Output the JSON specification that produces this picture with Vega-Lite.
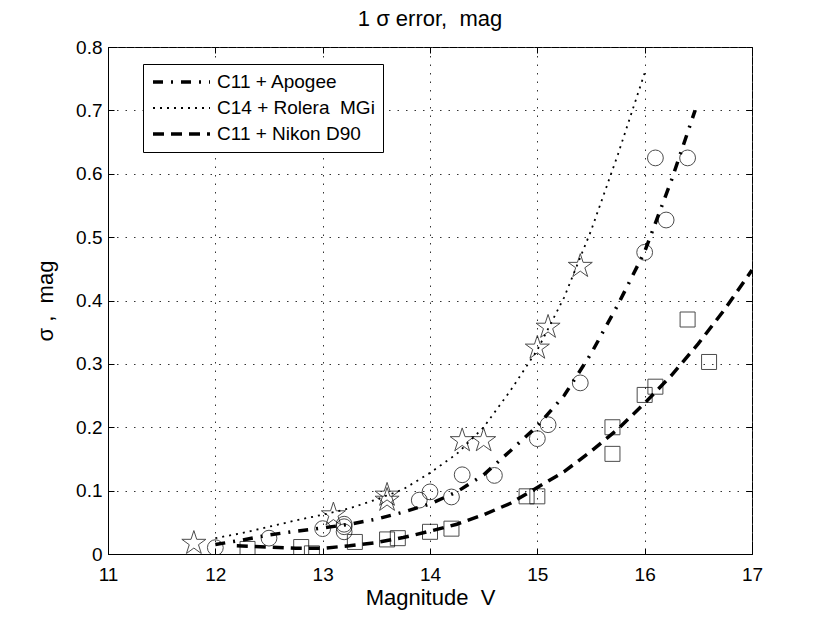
{
  "$schema": "https://vega.github.io/schema/vega-lite/v6.json",
  "width": 644,
  "height": 507,
  "autosize": {"type": "none"},
  "padding": {"left": 108, "top": 47, "right": 78, "bottom": 71},
  "background": "white",
  "title": {
    "text": "1 σ error,\u00a0 mag",
    "fontSize": 22,
    "fontWeight": "normal",
    "font": "Liberation Sans",
    "color": "black",
    "offset": 7
  },
  "datasets": {
    "curves": [
      {"series": "C11 + Apogee", "mag": 12.0, "sigma": 0.015},
      {"series": "C11 + Apogee", "mag": 12.25, "sigma": 0.022},
      {"series": "C11 + Apogee", "mag": 12.5, "sigma": 0.030},
      {"series": "C11 + Apogee", "mag": 12.75, "sigma": 0.036},
      {"series": "C11 + Apogee", "mag": 13.0, "sigma": 0.041},
      {"series": "C11 + Apogee", "mag": 13.25, "sigma": 0.047},
      {"series": "C11 + Apogee", "mag": 13.5, "sigma": 0.055},
      {"series": "C11 + Apogee", "mag": 13.75, "sigma": 0.066},
      {"series": "C11 + Apogee", "mag": 14.0, "sigma": 0.079},
      {"series": "C11 + Apogee", "mag": 14.25, "sigma": 0.098},
      {"series": "C11 + Apogee", "mag": 14.5, "sigma": 0.125},
      {"series": "C11 + Apogee", "mag": 14.75, "sigma": 0.163},
      {"series": "C11 + Apogee", "mag": 15.0, "sigma": 0.202},
      {"series": "C11 + Apogee", "mag": 15.25, "sigma": 0.250},
      {"series": "C11 + Apogee", "mag": 15.5, "sigma": 0.316},
      {"series": "C11 + Apogee", "mag": 15.75, "sigma": 0.393},
      {"series": "C11 + Apogee", "mag": 16.0, "sigma": 0.477},
      {"series": "C11 + Apogee", "mag": 16.25, "sigma": 0.590},
      {"series": "C11 + Apogee", "mag": 16.47, "sigma": 0.700},
      {"series": "C14 + Rolera\u00a0 MGi", "mag": 12.0, "sigma": 0.025},
      {"series": "C14 + Rolera\u00a0 MGi", "mag": 12.25, "sigma": 0.033},
      {"series": "C14 + Rolera\u00a0 MGi", "mag": 12.5, "sigma": 0.043},
      {"series": "C14 + Rolera\u00a0 MGi", "mag": 12.75, "sigma": 0.053},
      {"series": "C14 + Rolera\u00a0 MGi", "mag": 13.0, "sigma": 0.062},
      {"series": "C14 + Rolera\u00a0 MGi", "mag": 13.25, "sigma": 0.072},
      {"series": "C14 + Rolera\u00a0 MGi", "mag": 13.5, "sigma": 0.086},
      {"series": "C14 + Rolera\u00a0 MGi", "mag": 13.75, "sigma": 0.102},
      {"series": "C14 + Rolera\u00a0 MGi", "mag": 14.0, "sigma": 0.128},
      {"series": "C14 + Rolera\u00a0 MGi", "mag": 14.25, "sigma": 0.158},
      {"series": "C14 + Rolera\u00a0 MGi", "mag": 14.5, "sigma": 0.200},
      {"series": "C14 + Rolera\u00a0 MGi", "mag": 14.75, "sigma": 0.258},
      {"series": "C14 + Rolera\u00a0 MGi", "mag": 15.0, "sigma": 0.322},
      {"series": "C14 + Rolera\u00a0 MGi", "mag": 15.25, "sigma": 0.405},
      {"series": "C14 + Rolera\u00a0 MGi", "mag": 15.5, "sigma": 0.510},
      {"series": "C14 + Rolera\u00a0 MGi", "mag": 15.75, "sigma": 0.630},
      {"series": "C14 + Rolera\u00a0 MGi", "mag": 16.0, "sigma": 0.759},
      {"series": "C11 + Nikon D90", "mag": 12.2, "sigma": 0.013},
      {"series": "C11 + Nikon D90", "mag": 12.5, "sigma": 0.011},
      {"series": "C11 + Nikon D90", "mag": 12.75, "sigma": 0.009},
      {"series": "C11 + Nikon D90", "mag": 13.0, "sigma": 0.009},
      {"series": "C11 + Nikon D90", "mag": 13.25, "sigma": 0.013},
      {"series": "C11 + Nikon D90", "mag": 13.5, "sigma": 0.018},
      {"series": "C11 + Nikon D90", "mag": 13.75, "sigma": 0.026},
      {"series": "C11 + Nikon D90", "mag": 14.0, "sigma": 0.036},
      {"series": "C11 + Nikon D90", "mag": 14.25, "sigma": 0.047},
      {"series": "C11 + Nikon D90", "mag": 14.5, "sigma": 0.062},
      {"series": "C11 + Nikon D90", "mag": 14.75, "sigma": 0.080},
      {"series": "C11 + Nikon D90", "mag": 15.0, "sigma": 0.105},
      {"series": "C11 + Nikon D90", "mag": 15.25, "sigma": 0.130},
      {"series": "C11 + Nikon D90", "mag": 15.5, "sigma": 0.162},
      {"series": "C11 + Nikon D90", "mag": 15.75, "sigma": 0.197},
      {"series": "C11 + Nikon D90", "mag": 16.0, "sigma": 0.238},
      {"series": "C11 + Nikon D90", "mag": 16.25, "sigma": 0.282},
      {"series": "C11 + Nikon D90", "mag": 16.5, "sigma": 0.332},
      {"series": "C11 + Nikon D90", "mag": 16.75, "sigma": 0.387},
      {"series": "C11 + Nikon D90", "mag": 17.0, "sigma": 0.448}
    ],
    "points": [
      {"camera": "Apogee", "mag": 12.0, "sigma": 0.010},
      {"camera": "Apogee", "mag": 12.5, "sigma": 0.025},
      {"camera": "Apogee", "mag": 13.0, "sigma": 0.040},
      {"camera": "Apogee", "mag": 13.2, "sigma": 0.047},
      {"camera": "Apogee", "mag": 13.2, "sigma": 0.043},
      {"camera": "Apogee", "mag": 13.2, "sigma": 0.035},
      {"camera": "Apogee", "mag": 13.9, "sigma": 0.085},
      {"camera": "Apogee", "mag": 14.0, "sigma": 0.098},
      {"camera": "Apogee", "mag": 14.2, "sigma": 0.090},
      {"camera": "Apogee", "mag": 14.3, "sigma": 0.125},
      {"camera": "Apogee", "mag": 14.6, "sigma": 0.124},
      {"camera": "Apogee", "mag": 15.0, "sigma": 0.182},
      {"camera": "Apogee", "mag": 15.1, "sigma": 0.204},
      {"camera": "Apogee", "mag": 15.4, "sigma": 0.270},
      {"camera": "Apogee", "mag": 16.0, "sigma": 0.476},
      {"camera": "Apogee", "mag": 16.1, "sigma": 0.625},
      {"camera": "Apogee", "mag": 16.2, "sigma": 0.527},
      {"camera": "Apogee", "mag": 16.4, "sigma": 0.625},
      {"camera": "Rolera", "mag": 11.8, "sigma": 0.017},
      {"camera": "Rolera", "mag": 13.1, "sigma": 0.062},
      {"camera": "Rolera", "mag": 13.6, "sigma": 0.093},
      {"camera": "Rolera", "mag": 13.6, "sigma": 0.085},
      {"camera": "Rolera", "mag": 14.3, "sigma": 0.179},
      {"camera": "Rolera", "mag": 14.5, "sigma": 0.179},
      {"camera": "Rolera", "mag": 15.0, "sigma": 0.325},
      {"camera": "Rolera", "mag": 15.1, "sigma": 0.358},
      {"camera": "Rolera", "mag": 15.4, "sigma": 0.454},
      {"camera": "Nikon", "mag": 12.3, "sigma": 0.008},
      {"camera": "Nikon", "mag": 12.8, "sigma": 0.011},
      {"camera": "Nikon", "mag": 12.9, "sigma": 0.001},
      {"camera": "Nikon", "mag": 13.3, "sigma": 0.019},
      {"camera": "Nikon", "mag": 13.6, "sigma": 0.023},
      {"camera": "Nikon", "mag": 13.7, "sigma": 0.025},
      {"camera": "Nikon", "mag": 14.0, "sigma": 0.035},
      {"camera": "Nikon", "mag": 14.2, "sigma": 0.040},
      {"camera": "Nikon", "mag": 14.9, "sigma": 0.091},
      {"camera": "Nikon", "mag": 15.0, "sigma": 0.091},
      {"camera": "Nikon", "mag": 15.7, "sigma": 0.200},
      {"camera": "Nikon", "mag": 15.7, "sigma": 0.158},
      {"camera": "Nikon", "mag": 16.0, "sigma": 0.251},
      {"camera": "Nikon", "mag": 16.1, "sigma": 0.264},
      {"camera": "Nikon", "mag": 16.4, "sigma": 0.370},
      {"camera": "Nikon", "mag": 16.6, "sigma": 0.303}
    ]
  },
  "layer": [
    {
      "data": {"name": "curves"},
      "mark": {"type": "line", "color": "black", "clip": true},
      "encoding": {
        "x": {
          "field": "mag",
          "type": "quantitative",
          "scale": {"domain": [11, 17], "nice": false, "zero": false},
          "axis": {
            "orient": "bottom",
            "values": [11, 12, 13, 14, 15, 16, 17],
            "title": "Magnitude\u00a0 V",
            "grid": true,
            "tickSize": -6,
            "labelPadding": 17,
            "titlePadding": 3
          }
        },
        "y": {
          "field": "sigma",
          "type": "quantitative",
          "scale": {"domain": [0, 0.8], "nice": false},
          "axis": {
            "orient": "left",
            "values": [0, 0.1, 0.2, 0.3, 0.4, 0.5, 0.6, 0.7, 0.8],
            "labelExpr": "datum.value == 0 ? '0' : format(datum.value, '.1f')",
            "title": "σ ,\u00a0 mag",
            "grid": true,
            "tickSize": -6,
            "labelPadding": 12,
            "titlePadding": 18
          }
        },
        "strokeDash": {
          "field": "series",
          "type": "nominal",
          "scale": {
            "domain": ["C11 + Apogee", "C14 + Rolera\u00a0 MGi", "C11 + Nikon D90"],
            "range": [[10, 8, 2, 8], [2, 5], [11, 7]]
          },
          "legend": {"title": null}
        },
        "strokeWidth": {
          "field": "series",
          "type": "nominal",
          "scale": {
            "type": "ordinal",
            "domain": ["C11 + Apogee", "C14 + Rolera\u00a0 MGi", "C11 + Nikon D90"],
            "range": [3.5, 1.8, 3.5]
          },
          "legend": {"title": null}
        }
      }
    },
    {
      "data": {"name": "points"},
      "mark": {"type": "point", "filled": false, "color": "black", "strokeWidth": 1, "clip": true},
      "encoding": {
        "x": {
          "field": "mag",
          "type": "quantitative",
          "axis": {
            "orient": "top",
            "values": [11, 12, 13, 14, 15, 16, 17],
            "labels": false,
            "title": null,
            "grid": false,
            "domain": false,
            "tickSize": -6
          }
        },
        "y": {
          "field": "sigma",
          "type": "quantitative",
          "axis": {
            "orient": "right",
            "values": [0, 0.1, 0.2, 0.3, 0.4, 0.5, 0.6, 0.7, 0.8],
            "labels": false,
            "title": null,
            "grid": false,
            "domain": false,
            "tickSize": -6
          }
        },
        "shape": {
          "field": "camera",
          "type": "nominal",
          "scale": {
            "domain": ["Apogee", "Rolera", "Nikon"],
            "range": ["circle", "M0,-1L0.225,-0.309L0.951,-0.309L0.363,0.118L0.588,0.809L0,0.382L-0.588,0.809L-0.363,0.118L-0.951,-0.309L-0.225,-0.309Z", "square"]
          },
          "legend": null
        },
        "size": {
          "field": "camera",
          "type": "nominal",
          "scale": {
            "type": "ordinal",
            "domain": ["Apogee", "Rolera", "Nikon"],
            "range": [250, 640, 225]
          },
          "legend": null
        }
      }
    }
  ],
  "resolve": {"axis": {"x": "independent", "y": "independent"}},
  "config": {
    "view": {"stroke": "black", "strokeWidth": 1},
    "font": "Liberation Sans",
    "axis": {
      "domainColor": "black",
      "tickColor": "black",
      "labelColor": "black",
      "titleColor": "black",
      "labelFont": "Liberation Sans",
      "titleFont": "Liberation Sans",
      "labelFontSize": 19,
      "titleFontSize": 22,
      "titleFontWeight": "normal",
      "gridColor": "#333",
      "gridDash": [1.5, 7],
      "gridWidth": 1,
      "gridOpacity": 1,
      "labelOverlap": false,
      "labelFlush": false
    },
    "legend": {
      "orient": "none",
      "legendX": 35,
      "legendY": 17,
      "direction": "vertical",
      "fillColor": "white",
      "strokeColor": "black",
      "padding": 8,
      "cornerRadius": 0,
      "symbolType": "stroke",
      "symbolSize": 3249,
      "symbolStrokeColor": "black",
      "labelFont": "Liberation Sans",
      "labelFontSize": 19,
      "labelColor": "black",
      "labelOffset": 5,
      "labelLimit": 300,
      "clipHeight": 20,
      "rowPadding": 6
    }
  }
}
